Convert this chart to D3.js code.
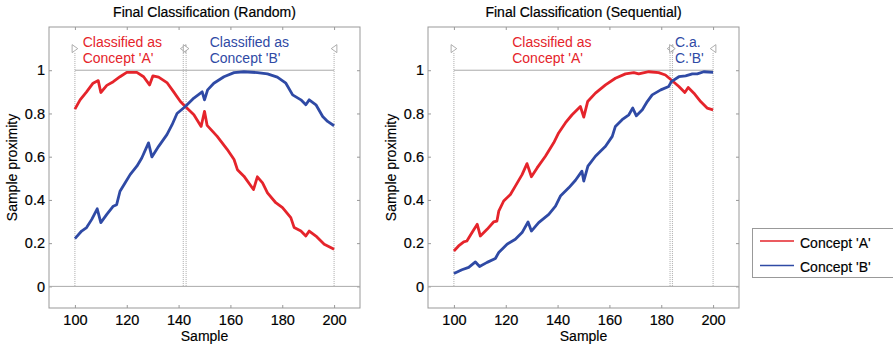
<!DOCTYPE html>
<html>
<head>
<meta charset="UTF-8">
<script src="https://d3js.org/d3.v7.min.js"></script>
<style>
  html, body { margin: 0; padding: 0; background: #fff; }
  svg { display: block; font-family: "Liberation Sans", Arial, sans-serif; }
  .box { fill: none; stroke: #999; stroke-width: 1; }
  .tick line { stroke: #999; }
  .tick text { font-size: 14.5px; fill: #000; stroke: #000; stroke-width: 0.2; }
  .ref { stroke: #aaa; stroke-width: 1; }
  .bound { stroke: #aaa; stroke-width: 1; stroke-dasharray: 1,1; }
  .tri { fill: #fff; stroke: #999; stroke-width: 0.8; }
  .curve { fill: none; stroke-width: 2.8; stroke-linejoin: round; }
  .title { font-size: 14px; text-anchor: middle; fill: #000; stroke: #000; stroke-width: 0.2; }
  .axlabel { font-size: 14px; text-anchor: middle; fill: #000; stroke: #000; stroke-width: 0.15; }
  .note { font-size: 14px; }
  .legtext { font-size: 14px; fill: #000; stroke: #000; stroke-width: 0.15; }
</style>
</head>
<body>
<svg width="893" height="347"></svg>
<script>
const colorA = "#e5242b", colorB = "#2f4aa5";
const xTicks = [100, 120, 140, 160, 180, 200];
const yTicks = [0, 0.2, 0.4, 0.6, 0.8, 1];
const legendLabels = ["Concept 'A'", "Concept 'B'"];

// [sample, proximity]
const randomA = [[100,0.82],[102,0.863],[104.5,0.90],[107,0.94],[109,0.952],[110,0.897],[112.3,0.93],[114.8,0.947],[117.4,0.97],[120,0.99],[123.9,0.99],[126.5,0.97],[128.8,0.932],[130.1,0.974],[132.3,0.968],[135.5,0.943],[138.1,0.90],[140.7,0.855],[142.6,0.832],[145.9,0.794],[148.7,0.74],[150,0.81],[151,0.745],[154.9,0.694],[158.8,0.633],[161.4,0.587],[162.7,0.54],[165.2,0.51],[168.9,0.448],[170.4,0.507],[172.4,0.479],[174.3,0.433],[177.5,0.387],[180.1,0.364],[183.3,0.318],[184.6,0.272],[187.2,0.256],[189.1,0.233],[190.4,0.256],[193,0.233],[196.2,0.195],[200,0.172]];
const randomB = [[100,0.221],[102.6,0.256],[104.5,0.272],[106.5,0.31],[108.6,0.359],[110,0.295],[112.3,0.333],[114.8,0.371],[116.1,0.378],[117.4,0.44],[119.4,0.479],[121.3,0.517],[123.9,0.556],[125.8,0.594],[128.4,0.664],[129.7,0.599],[132.3,0.648],[135.5,0.702],[137.5,0.748],[139.4,0.80],[142.6,0.832],[145.9,0.871],[149.1,0.90],[150,0.863],[151.2,0.909],[153.6,0.94],[157.5,0.97],[161.4,0.989],[165.2,0.993],[170.4,0.989],[174.3,0.983],[178.1,0.968],[181.4,0.94],[184,0.886],[187.2,0.863],[189.1,0.84],[190.4,0.863],[193,0.84],[195.6,0.786],[197.5,0.763],[200,0.743]];
const seqA = [[100,0.164],[101.8,0.187],[103.8,0.206],[105,0.21],[107,0.249],[109,0.287],[110.2,0.233],[112.8,0.264],[115.3,0.298],[116.6,0.302],[117.3,0.348],[119.2,0.395],[121.8,0.425],[123.7,0.464],[126.3,0.517],[128.2,0.568],[129.9,0.507],[132.1,0.548],[135.3,0.602],[138.5,0.664],[140.4,0.71],[143,0.756],[145.6,0.794],[148.8,0.832],[150.1,0.783],[151.6,0.855],[154.6,0.894],[158.5,0.932],[162.3,0.963],[166.2,0.983],[169.4,0.989],[171.3,0.983],[175.2,0.993],[179,0.989],[181.6,0.978],[183.9,0.955],[186.8,0.925],[189.1,0.897],[190.4,0.92],[192.6,0.894],[195.2,0.855],[197.7,0.825],[200,0.817]];
const seqB = [[100,0.06],[103.1,0.077],[105.7,0.088],[108.3,0.113],[109.9,0.092],[112.8,0.111],[116,0.129],[117.3,0.157],[120.5,0.195],[123.7,0.218],[126.3,0.249],[128.6,0.298],[129.9,0.256],[132.7,0.295],[136.6,0.333],[139.2,0.371],[141.1,0.418],[144.3,0.456],[146.9,0.491],[149.4,0.533],[150.1,0.487],[151.7,0.556],[154.6,0.602],[158.5,0.648],[161.1,0.694],[162.3,0.74],[164.9,0.771],[167.5,0.794],[169,0.825],[170.4,0.789],[172.7,0.817],[174.6,0.855],[176.5,0.886],[179.8,0.909],[182.9,0.925],[183.9,0.947],[186.8,0.97],[189.4,0.974],[192,0.983],[193.9,0.983],[196.4,0.993],[200,0.99]];

// classification regions: [start, end], label lines, label x (sample)
const randomRegions = [
  { range: [100, 141.8], lines: ["Classified as", "Concept 'A'"], at: 103, c: colorA },
  { range: [142.9, 200], lines: ["Classified as", "Concept 'B'"], at: 152, c: colorB }
];
const seqRegions = [
  { range: [100, 183.4], lines: ["Classified as", "Concept 'A'"], at: 122.5, c: colorA },
  { range: [184.3, 200], lines: ["C.a.", "C.'B'"], at: 185.3, c: colorB }
];

const svg = d3.select("svg");

function panel(left, right, title, regions, a, b) {
  const top = 27, bottom = 308;
  const x = d3.scaleLinear().domain([90, 210]).range([left, right]);
  const y = d3.scaleLinear().domain([-0.1, 1.2]).range([bottom, top]);
  const g = svg.append("g");

  g.append("rect").attr("class", "box")
    .attr("x", left).attr("y", top).attr("width", right - left).attr("height", bottom - top);

  const ax = (gen, tx, ty) => {
    const s = g.append("g").attr("transform", `translate(${tx},${ty})`).call(gen);
    s.select(".domain").remove();
    return s;
  };
  ax(d3.axisBottom(x).tickValues(xTicks).tickSizeInner(-3).tickSizeOuter(0).tickPadding(7), 0, bottom);
  ax(d3.axisTop(x).tickValues(xTicks).tickSizeInner(-3).tickSizeOuter(0).tickFormat(""), 0, top);
  ax(d3.axisLeft(y).tickValues(yTicks).tickSizeInner(-3).tickSizeOuter(0).tickPadding(4).tickFormat(d3.format("~g")), left, 0);
  ax(d3.axisRight(y).tickValues(yTicks).tickSizeInner(-3).tickSizeOuter(0).tickFormat(""), right, 0);

  // reference lines
  g.append("line").attr("class", "ref")
    .attr("x1", left).attr("x2", right).attr("y1", y(0)).attr("y2", y(0));
  g.append("line").attr("class", "ref")
    .attr("x1", x(100)).attr("x2", x(200)).attr("y1", y(1)).attr("y2", y(1));

  regions.forEach(r => {
    r.range.forEach((v, i) => {
      g.append("line").attr("class", "bound")
        .attr("x1", x(v)).attr("x2", x(v)).attr("y1", y(1.08)).attr("y2", y(0));
      const cx = x(v), cy = y(1.1), w = 2.8, h = 4;
      const pts = i === 0
        ? [[cx - w, cy - h], [cx + w, cy], [cx - w, cy + h]]
        : [[cx + w, cy - h], [cx - w, cy], [cx + w, cy + h]];
      g.append("path").attr("class", "tri").attr("d", d3.line()(pts) + "Z");
    });
    const t = g.append("text").attr("class", "note").attr("fill", r.c)
      .attr("x", x(r.at)).attr("y", 46.5);
    r.lines.forEach((s, i) => t.append("tspan").attr("x", x(r.at)).attr("dy", i ? 16 : 0).text(s));
  });

  const line = d3.line().x(d => x(d[0])).y(d => y(d[1]));
  g.append("path").attr("class", "curve").attr("stroke", colorA).attr("d", line(a));
  g.append("path").attr("class", "curve").attr("stroke", colorB).attr("d", line(b));

  g.append("text").attr("class", "title").attr("x", (left + right) / 2 + 0).attr("y", 16.5).text(title);
  g.append("text").attr("class", "axlabel").attr("x", x(150)).attr("y", 341).text("Sample");
  g.append("text").attr("class", "axlabel")
    .attr("transform", `translate(${left - 32},${(top + bottom) / 2}) rotate(-90)`)
    .text("Sample proximity");
}

panel(49, 360, "Final Classification (Random)", randomRegions, randomA, randomB);
panel(428, 739, "Final Classification (Sequential)", seqRegions, seqA, seqB);

// legend
const leg = svg.append("g");
leg.append("rect").attr("x", 752.5).attr("y", 228.5).attr("width", 145).attr("height", 49)
  .attr("fill", "#fff").attr("stroke", "#999");
legendLabels.forEach((s, i) => {
  const yy = 241 + i * 24.5;
  leg.append("line").attr("x1", 760).attr("x2", 794).attr("y1", yy).attr("y2", yy)
    .attr("stroke", i ? colorB : colorA).attr("stroke-width", 1.5);
  leg.append("text").attr("class", "legtext").attr("x", 800).attr("y", yy + 6.5).text(s);
});
</script>
</body>
</html>
